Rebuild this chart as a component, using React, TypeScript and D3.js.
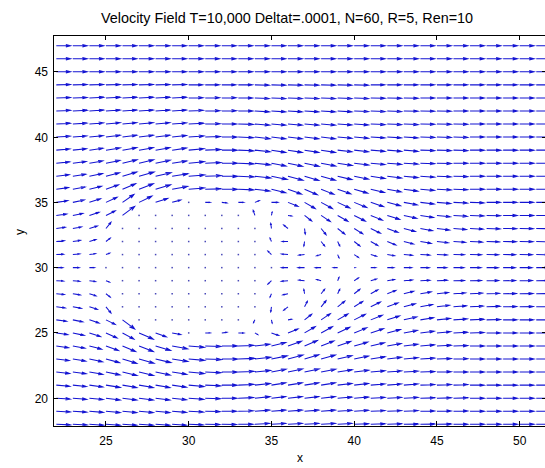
import React from 'react';
import * as d3 from 'd3';

// grid of the quiver plot
const X_COLS = [22, 23, 24, 25, 26, 27, 28, 29, 30, 31, 32, 33, 34, 35, 36, 37, 38, 39, 40, 41, 42, 43, 44, 45, 46, 47, 48, 49, 50, 51, 52];
const Y_ROWS = [47, 46, 45, 44, 43, 42, 41, 40, 39, 38, 37, 36, 35, 34, 33, 32, 31, 30, 29, 28, 27, 26, 25, 24, 23, 22, 21, 20, 19, 18];

// horizontal velocity, one row per y in Y_ROWS (top to bottom)
const U = [
  [1,1,1,1,1,1,1,1,1,1,1,1,1,1,1,1,1,1,1,1,1,1,1,1,1,1,1,1,1,1,1],
  [1,1,1,1,1,1,1,1,1,1,1,1,1,1,1,1,1,1,1,1,1,1,1,1,1,1,1,1,1,1,1],
  [1,1,1,1,1,1,1,1,1,1,1,1,1,1,1,1,1,1,1,1,1,1,1,1,1,1,1,1,1,1,1],
  [1,1,1,1,1,1,1,1,1,1,1,1,1,1,1,1,1,1,1,1,1,1,1,1,1,1,1,1,1,1,1],
  [1,1,1,1,1,1,1,1,1,1,1,1,1,1,1,1,1,1,1,1,1,1,1,1,1,1,1,1,1,1,1],
  [1,1,1,1,1,1,1,1,1.02,1.02,1.02,1.02,1.02,1,1,1,1,1,1,1,1,1,1,1,1,1,1,1,1,1,1],
  [.98,.98,.98,1,1,1,1,1,1.04,1.04,1.04,1.04,1.04,1,1,1,1,1,1,1,1,1,1,1,1,1,1,1,1,1,1],
  [.97,.97,.97,1,1,1,1,1,1.06,1.06,1.06,1.06,1.06,1,1,1,1,1,1,1,1,1,1,1,1,1,1,1,1,1,1],
  [.95,.95,.95,1,1,1,1,1,1.08,1.08,1.08,1.08,1.08,1,1,1,1,1,1,1,1,1,1,1,1,1,1,1,1,1,1],
  [.93,.93,.94,.98,1.02,1.02,1.02,1.02,1.1,1.1,1.1,1.1,1.1,1.02,1.02,1.02,1.02,1.02,1.02,1,1,1,1,1,1,1,1,1,1,1,1],
  [.9,.9,.92,.95,1,1.05,1.08,1.1,1.12,1.12,1.12,1.12,1.12,1.1,1.05,1,1,1,1,1,1,1,1,1,1,1,1,1,1,1,1],
  [.85,.85,.85,.88,.92,1,1.05,1.08,1.1,1.1,1.1,1.08,1.05,1,.95,.9,.9,.92,.95,.96,.97,.98,.98,1,1,1,1,1,1,1,1],
  [.8,.8,.78,.78,.8,.9,.85,.6,0,.35,.35,.38,.3,.45,.7,.75,.8,.85,.88,.9,.92,.94,.96,.97,.98,.98,.98,.98,.98,.98,.98],
  [.72,.7,.68,.65,.85,0,0,0,0,0,0,0,-.12,.05,.25,.5,.65,.72,.78,.82,.86,.9,.92,.94,.96,.97,.98,.98,.98,.98,.98],
  [.62,.6,.55,.35,0,0,0,0,0,0,0,0,0,-.05,-.3,.05,.35,.5,.6,.68,.75,.8,.85,.88,.9,.92,.94,.95,.95,.95,.95],
  [.55,.52,.45,.3,0,0,0,0,0,0,0,0,0,-.1,-.4,-.05,.25,.15,.4,.5,.6,.68,.75,.8,.84,.87,.9,.92,.93,.94,.95],
  [.5,.48,.42,.25,0,0,0,0,0,0,0,0,0,-.25,-.45,-.4,-.3,.1,.3,.4,.5,.6,.66,.72,.76,.8,.84,.86,.88,.9,.91],
  [.45,.43,.35,0,0,0,0,0,0,0,0,0,0,0,-.45,-.45,-.4,-.3,.05,.35,.45,.55,.62,.68,.73,.77,.81,.84,.86,.88,.9],
  [.5,.48,.42,.25,0,0,0,0,0,0,0,0,0,-.25,-.45,-.4,-.3,.1,.3,.4,.5,.6,.66,.72,.76,.8,.84,.86,.88,.9,.91],
  [.55,.52,.45,.3,0,0,0,0,0,0,0,0,0,-.1,-.35,-.05,.25,.15,.4,.5,.6,.68,.75,.8,.84,.87,.9,.92,.93,.94,.95],
  [.62,.6,.55,.35,0,0,0,0,0,0,0,0,0,-.05,-.3,.2,.35,.5,.6,.68,.75,.8,.85,.88,.9,.92,.94,.95,.95,.95,.95],
  [.72,.7,.68,.65,.85,0,0,0,0,0,0,0,-.1,.05,.25,.5,.65,.72,.78,.82,.86,.9,.92,.94,.96,.97,.98,.98,.98,.98,.98],
  [.8,.8,.78,.78,.8,1,.75,.6,0,.35,.35,.38,.2,.5,.7,.75,.8,.85,.88,.9,.92,.94,.96,.97,.98,.98,.98,.98,.98,.98,.98],
  [.85,.85,.85,.88,.92,1,1.05,1.08,1.1,1.1,1.1,1.08,1.05,1,.95,.9,.9,.92,.95,.96,.97,.98,.98,1,1,1,1,1,1,1,1],
  [.9,.9,.92,.95,1,1.05,1.08,1.1,1.12,1.12,1.12,1.12,1.12,1.1,1.05,1,1,1,1,1,1,1,1,1,1,1,1,1,1,1,1],
  [.93,.93,.94,.98,1.02,1.02,1.02,1.02,1.1,1.1,1.1,1.1,1.1,1.02,1.02,1.02,1.02,1.02,1.02,1,1,1,1,1,1,1,1,1,1,1,1],
  [.95,.95,.95,1,1,1,1,1,1.08,1.08,1.08,1.08,1.08,1,1,1,1,1,1,1,1,1,1,1,1,1,1,1,1,1,1],
  [.97,.97,.97,1,1,1,1,1,1.06,1.06,1.06,1.06,1.06,1,1,1,1,1,1,1,1,1,1,1,1,1,1,1,1,1,1],
  [.98,.98,.98,1,1,1,1,1,1.04,1.04,1.04,1.04,1.04,1,1,1,1,1,1,1,1,1,1,1,1,1,1,1,1,1,1],
  [1,1,1,1,1,1,1,1,1.02,1.02,1.02,1.02,1.02,1,1,1,1,1,1,1,1,1,1,1,1,1,1,1,1,1,1],
];

// vertical velocity, same layout as U
const V = [
  [0,0,0,0,0,0,0,0,0,0,0,0,0,0,0,0,0,0,0,0,0,0,0,0,0,0,0,0,0,0,0],
  [0,0,0,0,0,0,0,0,0,0,0,0,0,0,0,0,0,0,0,0,0,0,0,0,0,0,0,0,0,0,0],
  [0,0,0,0,0,0,0,0,0,0,0,0,0,0,0,0,0,0,0,0,0,0,0,0,0,0,0,0,0,0,0],
  [.03,.03,.03,.03,.03,.03,.03,.03,0,0,0,0,-.03,-.03,-.03,-.03,-.03,-.03,-.03,0,0,0,0,0,0,0,0,0,0,0,0],
  [.04,.04,.06,.06,.06,.06,.06,.06,.02,.02,.02,0,-.06,-.06,-.06,-.06,-.06,-.06,-.06,-.03,-.03,-.03,0,0,0,0,0,0,0,0,0],
  [.05,.06,.08,.08,.08,.08,.08,.08,.05,.02,.02,0,-.08,-.08,-.08,-.08,-.08,-.08,-.05,-.05,-.05,-.02,-.02,-.02,0,0,0,0,0,0,0],
  [.06,.08,.1,.12,.12,.12,.12,.1,.07,.03,0,-.03,-.1,-.1,-.1,-.1,-.1,-.08,-.08,-.05,-.05,-.05,-.02,-.02,-.02,0,0,0,0,0,0],
  [.08,.1,.12,.16,.16,.16,.16,.14,.1,.05,0,-.05,-.14,-.14,-.14,-.14,-.14,-.1,-.1,-.07,-.07,-.07,-.03,-.03,-.03,0,0,0,0,0,0],
  [.1,.12,.16,.2,.22,.22,.22,.18,.12,.06,0,-.06,-.14,-.2,-.2,-.2,-.2,-.15,-.15,-.1,-.1,-.1,-.04,-.04,-.04,0,0,0,0,0,0],
  [.12,.15,.2,.25,.3,.3,.26,.2,.13,.06,0,-.06,-.15,-.25,-.28,-.28,-.25,-.2,-.16,-.12,-.1,-.08,-.05,-.03,0,0,0,0,0,0,0],
  [.14,.18,.24,.32,.38,.38,.32,.22,.12,.05,0,-.06,-.15,-.28,-.36,-.38,-.36,-.3,-.26,-.2,-.16,-.12,-.08,-.05,-.03,0,0,0,0,0,0],
  [.15,.2,.28,.4,.5,.5,.4,.25,.12,.04,0,-.05,-.15,-.3,-.42,-.48,-.45,-.4,-.34,-.28,-.22,-.16,-.1,-.06,-.04,0,0,0,0,0,0],
  [.15,.22,.32,.45,.7,.55,.35,.2,0,0,-.05,0,.15,0,-.35,-.55,-.55,-.5,-.45,-.38,-.3,-.22,-.15,-.1,-.06,-.04,0,0,0,0,0],
  [.12,.18,.28,.4,.8,0,0,0,0,0,0,0,.45,.3,-.05,-.5,-.55,-.52,-.5,-.42,-.35,-.26,-.18,-.12,-.08,-.05,-.03,0,0,0,0],
  [.1,.14,.22,.55,0,0,0,0,0,0,0,0,0,.45,.3,-.5,-.55,-.5,-.48,-.42,-.35,-.27,-.2,-.14,-.09,-.06,-.04,-.02,-.02,-.02,-.02],
  [.07,.1,.18,.3,0,0,0,0,0,0,0,0,0,.3,0,-.4,-.4,-.4,-.4,-.35,-.3,-.22,-.16,-.11,-.07,-.05,-.03,-.02,-.02,-.02,-.02],
  [.03,.05,.08,.12,0,0,0,0,0,0,0,0,0,.3,.05,-.05,-.1,-.3,-.25,-.15,-.1,-.06,-.04,-.03,-.01,-.01,-.01,-.01,-.01,-.01,-.01],
  [0,0,0,0,0,0,0,0,0,0,0,0,0,0,0,0,0,0,0,0,0,0,0,0,0,0,0,0,0,0,0],
  [-.03,-.05,-.08,-.12,0,0,0,0,0,0,0,0,0,-.3,-.05,.05,.1,.3,.25,.15,.1,.06,.04,.03,.01,.01,.01,.01,.01,.01,.01],
  [-.07,-.1,-.18,-.3,0,0,0,0,0,0,0,0,0,-.3,-.1,.4,.4,.4,.4,.35,.3,.22,.16,.11,.07,.05,.03,.02,.02,.02,.02],
  [-.1,-.14,-.22,-.55,0,0,0,0,0,0,0,0,0,-.45,-.3,.5,.55,.5,.48,.42,.35,.27,.2,.14,.09,.06,.04,.02,.02,.02,.02],
  [-.12,-.18,-.28,-.4,-.8,0,0,0,0,0,0,0,-.25,-.3,.05,.5,.55,.52,.5,.42,.35,.26,.18,.12,.08,.05,.03,0,0,0,0],
  [-.15,-.22,-.32,-.45,-.55,-.55,-.35,-.15,0,0,.05,0,-.15,-.22,.35,.55,.55,.5,.45,.38,.3,.22,.15,.1,.06,.04,0,0,0,0,0],
  [-.15,-.2,-.28,-.4,-.5,-.5,-.4,-.25,-.12,-.04,0,.05,.15,.3,.42,.48,.45,.4,.34,.28,.22,.16,.1,.06,.04,0,0,0,0,0,0],
  [-.14,-.18,-.24,-.32,-.38,-.38,-.32,-.22,-.12,-.05,0,.06,.15,.28,.36,.38,.36,.3,.26,.2,.16,.12,.08,.05,.03,0,0,0,0,0,0],
  [-.12,-.15,-.2,-.25,-.3,-.3,-.26,-.2,-.13,-.06,0,.06,.15,.25,.28,.28,.25,.2,.16,.12,.1,.08,.05,.03,0,0,0,0,0,0,0],
  [-.1,-.12,-.16,-.2,-.22,-.22,-.22,-.18,-.12,-.06,0,.06,.14,.2,.2,.2,.2,.15,.15,.1,.1,.1,.04,.04,.04,0,0,0,0,0,0],
  [-.08,-.1,-.12,-.16,-.16,-.16,-.16,-.14,-.1,-.05,0,.05,.14,.14,.14,.14,.14,.1,.1,.07,.07,.07,.03,.03,.03,0,0,0,0,0,0],
  [-.06,-.08,-.1,-.12,-.12,-.12,-.12,-.1,-.07,-.03,0,.03,.1,.1,.1,.1,.1,.08,.08,.05,.05,.05,.02,.02,.02,0,0,0,0,0,0],
  [-.05,-.06,-.08,-.08,-.08,-.08,-.08,-.08,-.05,-.02,-.02,0,.08,.08,.08,.08,.08,.08,.05,.05,.05,.02,.02,.02,0,0,0,0,0,0,0],
];

const X_TICKS = [25, 30, 35, 40, 45, 50];
const Y_TICKS = [20, 25, 30, 35, 40, 45];
const TITLE = 'Velocity Field T=10,000 Deltat=.0001, N=60, R=5, Ren=10';

const W = 545;
const H = 468;
const left = 53, right = 547, top = 35, bottom = 426;
const font = '"Liberation Sans", Arial, Helvetica, sans-serif';
const blue = '#1414d2';

// matlab-ish quiver constants
const autoScale = 0.86;
const alpha = 0.33;
const beta = 0.33;

export default function App() {
  const x = d3.scaleLinear().domain([21.8, 51.65]).range([left, right]);
  const y = d3.scaleLinear().domain([17.87, 47.82]).range([bottom, top]);

  const p = d3.path();
  const dots: { cx: number; cy: number }[] = [];
  Y_ROWS.forEach((yy, r) => {
    X_COLS.forEach((xx, c) => {
      const u = U[r][c] * autoScale;
      const v = V[r][c] * autoScale;
      if (u === 0 && v === 0) {
        // zero vectors still leave a dot in matlab
        dots.push({ cx: x(xx), cy: y(yy) });
        return;
      }
      const tx = xx + u, ty = yy + v;
      p.moveTo(x(xx), y(yy));
      p.lineTo(x(tx), y(ty));
      p.moveTo(x(tx - alpha * (u + beta * v)), y(ty - alpha * (v - beta * u)));
      p.lineTo(x(tx), y(ty));
      p.lineTo(x(tx - alpha * (u - beta * v)), y(ty - alpha * (v + beta * u)));
    });
  });

  return (
    <svg width={W} height={H} style={{ position: 'absolute', left: 0, top: 0 }}>
      <rect width={W} height={H} fill="#fff" />
      <defs>
        <clipPath id="plotArea">
          <rect x={left} y={top} width={right - left} height={bottom - top} />
        </clipPath>
      </defs>
      <g clipPath="url(#plotArea)">
        <path d={p.toString()} fill="none" stroke={blue} strokeWidth={1.05} />
        {dots.map((d, i) => (
          <rect key={i} x={d.cx - 0.75} y={d.cy - 0.75} width={1.5} height={1.5} fill="#4a4ab8" />
        ))}
      </g>
      <g stroke="#000" strokeWidth={1} fill="none" shapeRendering="crispEdges">
        <rect x={left} y={top} width={right - left} height={bottom - top} />
        {X_TICKS.map(t => (
          <g key={t}>
            <line x1={x(t)} x2={x(t)} y1={bottom} y2={bottom - 5} />
            <line x1={x(t)} x2={x(t)} y1={top} y2={top + 5} />
          </g>
        ))}
        {Y_TICKS.map(t => (
          <g key={t}>
            <line x1={left} x2={left + 5} y1={y(t)} y2={y(t)} />
            <line x1={right} x2={right - 5} y1={y(t)} y2={y(t)} />
          </g>
        ))}
      </g>
      <g fontFamily={font} fontSize={12} fill="#000">
        {X_TICKS.map(t => (
          <text key={t} x={x(t)} y={445} textAnchor="middle">{t}</text>
        ))}
        {Y_TICKS.map(t => (
          <text key={t} x={48} y={y(t) + 4.5} textAnchor="end">{t}</text>
        ))}
        <text x={300} y={462} textAnchor="middle">x</text>
        <text transform="translate(24,232) rotate(-90)" textAnchor="middle">y</text>
        <text x={287} y={23} textAnchor="middle" fontSize={14.4}>{TITLE}</text>
      </g>
    </svg>
  );
}
